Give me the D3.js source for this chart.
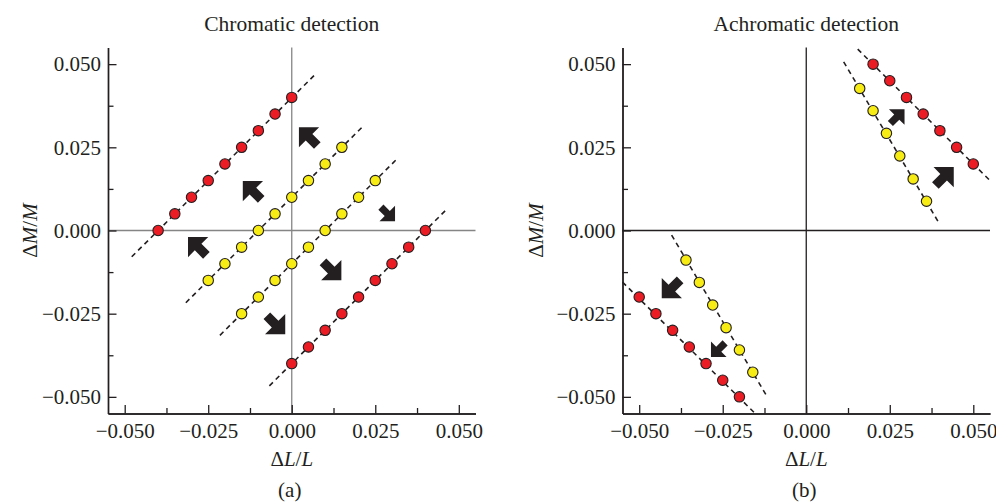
<!DOCTYPE html>
<html>
<head>
<meta charset="utf-8">
<script src="https://cdn.jsdelivr.net/npm/d3@7"></script>
<style>
  html, body { margin: 0; padding: 0; background: #ffffff; }
  svg { display: block; }
  text { font-family: "Liberation Serif", "DejaVu Serif", serif; fill: #231f20; }
</style>
</head>
<body>
<svg id="chart" width="996" height="503"></svg>
<script>
// ---------------- DATA ----------------
const majorTicks = [-0.050, -0.025, 0.000, 0.025, 0.050];
const minorTicks = [-0.0375, -0.0125, 0.0125, 0.0375];
const axisDomain = [-0.055, 0.055];

const panelTitles = ["Chromatic detection", "Achromatic detection"];
const panelLetters = ["(a)", "(b)"];

// Panel (a): chromatic detection contours (ΔL/L, ΔM/M)
const aRedUpperL = [-0.040, -0.035, -0.030, -0.025, -0.020, -0.015, -0.010, -0.005, 0.000];
const aRedUpperM = [0.000, 0.005, 0.010, 0.015, 0.020, 0.025, 0.030, 0.035, 0.040];
const aYelUpperL = [-0.025, -0.020, -0.015, -0.010, -0.005, 0.000, 0.005, 0.010, 0.015];
const aYelUpperM = [-0.015, -0.010, -0.005, 0.000, 0.005, 0.010, 0.015, 0.020, 0.025];
const aYelLowerL = [-0.015, -0.010, -0.005, 0.000, 0.005, 0.010, 0.015, 0.020, 0.025];
const aYelLowerM = [-0.025, -0.020, -0.015, -0.010, -0.005, 0.000, 0.005, 0.010, 0.015];
const aRedLowerL = [0.000, 0.005, 0.010, 0.015, 0.020, 0.025, 0.030, 0.035, 0.040];
const aRedLowerM = [-0.040, -0.035, -0.030, -0.025, -0.020, -0.015, -0.010, -0.005, 0.000];

// Panel (b): achromatic detection contours
const bRedUpperL = [0.020, 0.025, 0.030, 0.035, 0.040, 0.045, 0.050];
const bRedUpperM = [0.050, 0.045, 0.040, 0.035, 0.030, 0.025, 0.020];
const bYelUpperL = [0.016, 0.020, 0.024, 0.028, 0.032, 0.036];
const bYelUpperM = [0.0427, 0.0360, 0.0292, 0.0224, 0.0155, 0.0088];
const bRedLowerL = [-0.050, -0.045, -0.040, -0.035, -0.030, -0.025, -0.020];
const bRedLowerM = [-0.020, -0.025, -0.030, -0.035, -0.040, -0.045, -0.050];
const bYelLowerL = [-0.036, -0.032, -0.028, -0.024, -0.020, -0.016];
const bYelLowerM = [-0.0089, -0.0156, -0.0224, -0.0292, -0.0359, -0.0426];

// Dashed fit lines: [L1, M1, L2, M2]
const aFitLines = [
  [-0.0479, -0.0079, 0.0067, 0.0466],
  [-0.0317, -0.0217, 0.0213, 0.0313],
  [-0.0215, -0.0315, 0.0317, 0.0217],
  [-0.0067, -0.0467, 0.0464, 0.0064]
];
const bFitLines = [
  [0.0154, 0.0545, 0.0549, 0.0151],
  [0.0112, 0.0507, 0.0397, 0.0023],
  [-0.0550, -0.0155, -0.0153, -0.0550],
  [-0.0403, -0.0014, -0.0118, -0.0498]
];

// Direction arrows: [L, M, direction, size]
const aArrows = [
  [0.0049, 0.0283, "NW", "big"],
  [-0.0119, 0.0121, "NW", "big"],
  [0.0288, 0.0049, "SE", "small"],
  [-0.0283, -0.0047, "NW", "big"],
  [0.0121, -0.0122, "SE", "big"],
  [-0.0047, -0.0284, "SE", "big"]
];
const bArrows = [
  [0.0273, 0.0343, "NE", "small"],
  [0.0414, 0.0163, "NE", "big"],
  [-0.0405, -0.0176, "SW", "big"],
  [-0.0264, -0.0359, "SW", "small"]
];

const RED = "#ec1c24";
const YELLOW = "#f7ec13";
const INK = "#231f20";

// ---------------- DRAW ----------------
const svg = d3.select("#chart");
const yScale = d3.scaleLinear().domain(axisDomain).range([413.5, 47.5]);

const dirAngle = { NW: -135, SE: 45, NE: -45, SW: 135 };
const arrowSize = { big: 26, small: 20 };

function arrowPath(s) {
  const h = 0.55 * s, w = 0.55 * s, sw = 0.18 * s;
  const pts = [[0, 0], [-h, w], [-h, sw], [-s, sw], [-s, -sw], [-h, -sw], [-h, -w]]
    .map(p => [p[0] + s / 2, p[1]]);
  return d3.line()(pts) + "Z";
}

function drawPanel(opts) {
  const x = d3.scaleLinear().domain(axisDomain).range(opts.xRange);
  const y = yScale;
  const g = svg.append("g");

  // zero lines
  g.append("line")
    .attr("x1", x.range()[0]).attr("x2", x.range()[1])
    .attr("y1", y(0)).attr("y2", y(0))
    .attr("stroke", opts.zeroColor).attr("stroke-width", 1.3);
  g.append("line")
    .attr("x1", x(0)).attr("x2", x(0))
    .attr("y1", y.range()[0]).attr("y2", y.range()[1])
    .attr("stroke", opts.zeroColor).attr("stroke-width", 1.3);

  // axes
  const yAxis = d3.axisLeft(y).tickValues(majorTicks).tickSize(-8.5).tickSizeOuter(0)
    .tickPadding(7).tickFormat(d3.format(".3f"));
  const yMinor = d3.axisLeft(y).tickValues(minorTicks).tickSize(-5.5).tickSizeOuter(0)
    .tickFormat("");
  const xAxis = d3.axisBottom(x).tickValues(majorTicks).tickSize(-8.5).tickSizeOuter(0)
    .tickPadding(10).tickFormat(d3.format(".3f"));
  const xMinor = d3.axisBottom(x).tickValues(minorTicks).tickSize(-5.5).tickSizeOuter(0)
    .tickFormat("");

  const styleAxis = sel => {
    sel.attr("font-family", null).attr("font-size", null);
    sel.selectAll("path.domain").attr("stroke", INK).attr("stroke-width", 1.4);
    sel.selectAll(".tick line").attr("stroke", INK).attr("stroke-width", 1.3);
    sel.selectAll(".tick text").attr("font-size", 21).attr("fill", "#2a2627")
      .style("font-family", '"Liberation Serif", serif');
  };
  g.append("g").attr("transform", `translate(${x.range()[0]},0)`).call(yMinor).call(styleAxis);
  g.append("g").attr("transform", `translate(0,${y.range()[0]})`).call(xMinor).call(styleAxis);
  g.append("g").attr("transform", `translate(${x.range()[0]},0)`).call(yAxis).call(styleAxis);
  g.append("g").attr("transform", `translate(0,${y.range()[0]})`).call(xAxis).call(styleAxis);

  // dashed fit lines
  g.selectAll("line.fit").data(opts.fits).enter().append("line")
    .attr("class", "fit")
    .attr("x1", d => x(d[0])).attr("y1", d => y(d[1]))
    .attr("x2", d => x(d[2])).attr("y2", d => y(d[3]))
    .attr("stroke", INK).attr("stroke-width", 1.6)
    .attr("stroke-dasharray", "5,4");

  // points
  opts.series.forEach(s => {
    const pts = s.L.map((l, i) => [l, s.M[i]]);
    g.selectAll(null).data(pts).enter().append("circle")
      .attr("cx", d => x(d[0])).attr("cy", d => y(d[1]))
      .attr("r", 5.2)
      .attr("fill", s.color).attr("stroke", INK).attr("stroke-width", 1.1);
  });

  // arrows
  g.selectAll("path.arrow").data(opts.arrows).enter().append("path")
    .attr("class", "arrow")
    .attr("d", d => arrowPath(arrowSize[d[3]]))
    .attr("transform", d => `translate(${x(d[0])},${y(d[1])}) rotate(${dirAngle[d[2]]})`)
    .attr("fill", INK);

  // titles and labels
  const cx = x(0);
  g.append("text").attr("x", cx).attr("y", 31).attr("text-anchor", "middle")
    .attr("font-size", 21.5).text(opts.title);

  const xl = g.append("text").attr("x", cx).attr("y", 466).attr("text-anchor", "middle")
    .attr("font-size", 21);
  xl.append("tspan").text("Δ");
  xl.append("tspan").attr("font-style", "italic").text("L");
  xl.append("tspan").text("/");
  xl.append("tspan").attr("font-style", "italic").text("L");

  const yl = g.append("text")
    .attr("transform", `translate(${opts.yLabelX},${y(0)}) rotate(-90)`)
    .attr("text-anchor", "middle").attr("font-size", 21);
  yl.append("tspan").text("Δ");
  yl.append("tspan").attr("font-style", "italic").text("M");
  yl.append("tspan").text("/");
  yl.append("tspan").attr("font-style", "italic").text("M");

  g.append("text").attr("x", cx - 2).attr("y", 497).attr("text-anchor", "middle")
    .attr("font-size", 21).text(opts.letter);
}

drawPanel({
  xRange: [108, 475.5],
  zeroColor: "#858585",
  title: panelTitles[0],
  letter: panelLetters[0],
  yLabelX: 37,
  fits: aFitLines,
  series: [
    { L: aRedUpperL, M: aRedUpperM, color: RED },
    { L: aYelUpperL, M: aYelUpperM, color: YELLOW },
    { L: aYelLowerL, M: aYelLowerM, color: YELLOW },
    { L: aRedLowerL, M: aRedLowerM, color: RED }
  ],
  arrows: aArrows
});

drawPanel({
  xRange: [622.5, 990],
  zeroColor: INK,
  title: panelTitles[1],
  letter: panelLetters[1],
  yLabelX: 543,
  fits: bFitLines,
  series: [
    { L: bRedUpperL, M: bRedUpperM, color: RED },
    { L: bYelUpperL, M: bYelUpperM, color: YELLOW },
    { L: bRedLowerL, M: bRedLowerM, color: RED },
    { L: bYelLowerL, M: bYelLowerM, color: YELLOW }
  ],
  arrows: bArrows
});
</script>
</body>
</html>
